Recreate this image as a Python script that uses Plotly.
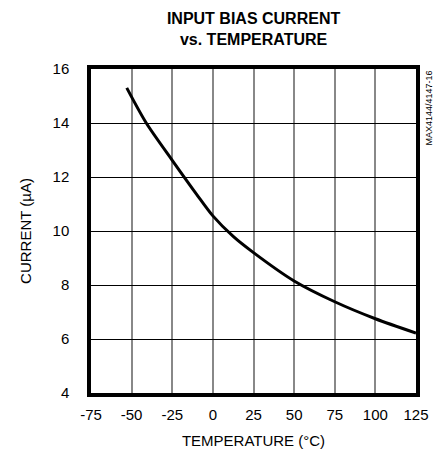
import plotly.graph_objects as go

temperature = [-53, -41, -25, -10, 0, 12.5, 25, 50, 75, 100, 125]
current = [15.3, 14.0, 12.62, 11.36, 10.56, 9.8, 9.2, 8.15, 7.38, 6.75, 6.22]

x_ticks = [-75, -50, -25, 0, 25, 50, 75, 100, 125]
y_ticks = [4, 6, 8, 10, 12, 14, 16]

FONT = "Liberation Sans Narrow, Arial Narrow, Liberation Sans, Arial, sans-serif"

fig = go.Figure()
fig.add_trace(go.Scatter(
    x=temperature, y=current, mode="lines",
    line=dict(color="black", width=3, shape="spline", smoothing=0.8),
    showlegend=False, hoverinfo="skip"))

fig.update_layout(
    width=441, height=453,
    margin=dict(l=91, r=25, t=69, b=60, autoexpand=False),
    paper_bgcolor="white", plot_bgcolor="white",
    font=dict(family=FONT, color="black", size=15),
    title=dict(text="<b>INPUT BIAS CURRENT<br>vs. TEMPERATURE</b>",
               x=0.575, xanchor="center", y=0.947, yanchor="top",
               font=dict(family=FONT, size=16, color="black")),
)
fig.update_xaxes(
    range=[-75, 125], tickvals=x_ticks, ticktext=[str(v) for v in x_ticks],
    showgrid=True, gridcolor="#888888", gridwidth=2,
    showline=True, linecolor="black", linewidth=3.5, mirror=True,
    ticks="outside", ticklen=5, tickcolor="rgba(0,0,0,0)",
    zeroline=False, automargin=False,
    title=dict(text="TEMPERATURE (°C)", standoff=15, font=dict(size=15)),
    tickfont=dict(size=15),
)
fig.update_yaxes(
    range=[4, 16], tickvals=y_ticks, ticktext=[str(v) for v in y_ticks],
    showgrid=True, gridcolor="black", gridwidth=1.2,
    showline=True, linecolor="black", linewidth=3.5, mirror=True,
    ticks="outside", ticklen=15, tickcolor="rgba(0,0,0,0)",
    zeroline=False, automargin=False,
    title=dict(text="CURRENT (µA)", standoff=18, font=dict(size=15)),
    tickfont=dict(size=15),
)
fig.add_annotation(
    text="MAX4144/4147-16", textangle=-90,
    xref="paper", yref="paper", x=1.0, y=1.0,
    xanchor="left", yanchor="top", xshift=5, showarrow=False,
    font=dict(family=FONT, size=9, color="black"))

fig.write_html("out.html", config={"displayModeBar": False},
               post_script="document.body.style.margin='0';document.body.style.padding='0';")
